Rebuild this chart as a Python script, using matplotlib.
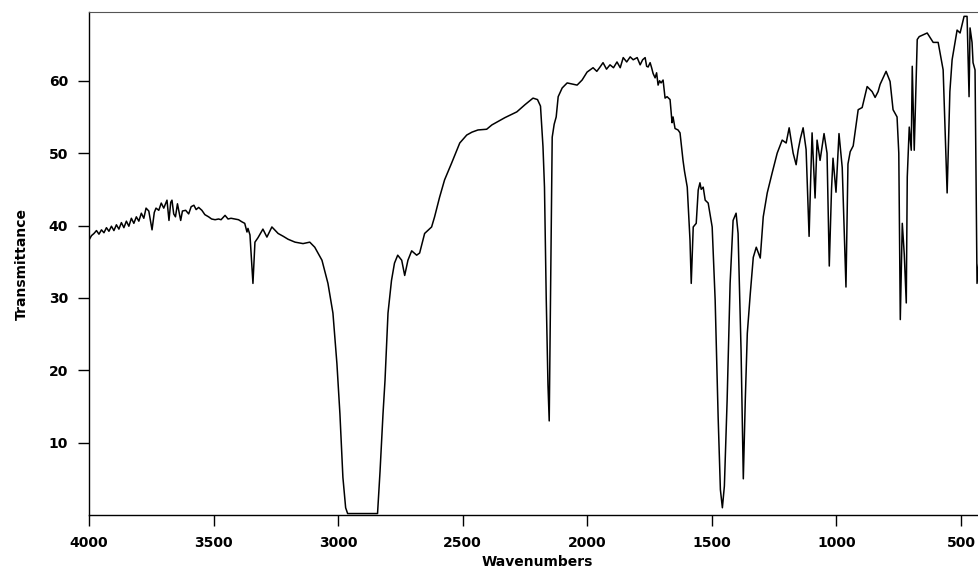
import matplotlib
matplotlib.use("Agg")
import matplotlib.pyplot as plt
import numpy as np

# IR spectrum: wavenumber (cm-1) and transmittance (%)
wn_oh = [4000, 3990, 3980, 3970, 3960, 3950, 3940, 3930, 3920, 3910, 3900, 3890,
         3880, 3870, 3860, 3850, 3840, 3830, 3820, 3810, 3800, 3790, 3780, 3771,
         3760, 3747, 3738, 3731, 3720, 3710, 3700, 3687, 3679, 3672, 3667, 3660,
         3653, 3645, 3632, 3625, 3612, 3600, 3590, 3579, 3570, 3560, 3547, 3535,
         3520, 3508, 3494, 3480, 3470, 3454, 3442, 3430, 3414, 3400, 3386, 3375]
tr_oh = [38.0, 38.6, 38.9, 39.3, 38.8, 39.4, 39.0, 39.7, 39.2, 39.9, 39.3, 40.1,
         39.5, 40.4, 39.7, 40.6, 39.9, 41.0, 40.3, 41.2, 40.6, 41.7, 41.0, 42.4,
         42.0, 39.4, 41.8, 42.4, 42.1, 43.1, 42.4, 43.5, 40.7, 43.2, 43.5, 41.6,
         41.2, 43.0, 40.7, 42.0, 42.1, 41.6, 42.6, 42.8, 42.2, 42.5, 42.1, 41.5,
         41.2, 40.9, 40.8, 40.9, 40.8, 41.4, 40.9, 41.0, 40.9, 40.8, 40.5, 40.3]

wn_ch = [3366, 3362, 3354, 3342, 3334, 3322, 3302, 3286, 3266, 3241, 3220, 3201,
         3173, 3141, 3114, 3094, 3065, 3041, 3021, 3005, 2993, 2981, 2970, 2962,
         2900, 2842, 2832, 2820, 2812, 2800, 2786, 2774, 2761, 2745, 2733, 2720,
         2705, 2685, 2673, 2653, 2625, 2613, 2593, 2573, 2545, 2512, 2484, 2463,
         2439, 2404, 2383, 2331, 2283, 2250, 2218, 2200, 2188, 2178, 2172, 2165,
         2158, 2153, 2147, 2141, 2133, 2125, 2117, 2101, 2081, 2041, 2021, 2001]
tr_ch = [39.1, 39.6, 38.7, 32.0, 37.7, 38.3, 39.5, 38.4, 39.8, 38.9, 38.5, 38.1,
         37.7, 37.5, 37.7, 37.0, 35.2, 32.0, 27.9, 20.9, 14.0, 5.2, 1.0, 0.2,
         0.2, 0.2, 6.0, 14.0, 18.6, 27.9, 32.4, 34.8, 35.9, 35.2, 33.1, 35.2,
         36.5, 35.9, 36.2, 38.9, 39.8, 41.2, 43.9, 46.3, 48.6, 51.4, 52.5, 52.9,
         53.2, 53.3, 53.9, 54.9, 55.7, 56.7, 57.6, 57.4, 56.5, 50.9, 45.3, 30.0,
         18.0, 13.0, 32.0, 52.2, 54.0, 55.0, 57.8, 59.0, 59.7, 59.4, 60.1, 61.2]

wn_fp = [1977, 1962, 1949, 1937, 1923, 1909, 1895, 1881, 1868, 1856, 1842, 1828,
         1816, 1800, 1788, 1778, 1768, 1762, 1756, 1748, 1742, 1736, 1728, 1722,
         1716, 1710, 1704, 1696, 1688, 1680, 1668, 1660, 1656, 1648, 1636, 1628,
         1616, 1610, 1599, 1588, 1583, 1575, 1563, 1555, 1548, 1543, 1535, 1527,
         1515, 1499, 1487, 1475, 1466, 1458, 1450, 1439, 1427, 1415, 1403, 1395,
         1383, 1374, 1366, 1358, 1346, 1334, 1322, 1306, 1294, 1278, 1258, 1238,
         1218, 1202, 1190, 1174, 1162, 1154, 1145, 1134, 1122, 1110, 1104, 1098,
         1086, 1078, 1066, 1050, 1038, 1029, 1020, 1014, 1002, 990, 977, 962,
         954, 945, 933, 913, 897, 877, 857, 845, 833, 825, 801, 785, 773, 757,
         750, 744, 736, 728, 720, 716, 708, 700, 696, 688, 676, 668, 636, 612,
         592, 572, 556, 545, 536, 516, 504, 488, 476, 468, 464, 456, 452, 444,
         436, 426]
tr_fp = [61.8, 61.3, 61.9, 62.5, 61.6, 62.2, 61.8, 62.6, 61.8, 63.2, 62.6, 63.3,
         62.9, 63.2, 62.2, 62.9, 63.2, 62.0, 61.9, 62.5, 61.8, 61.0, 60.4, 61.1,
         59.4, 60.0, 59.7, 60.1, 57.6, 57.8, 57.4, 54.2, 55.0, 53.4, 53.2, 52.8,
         49.0, 47.5, 45.3, 38.0, 32.0, 39.8, 40.3, 44.9, 45.9, 45.0, 45.3, 43.5,
         43.1, 39.8, 29.7, 13.5, 3.5, 1.0, 4.0, 15.8, 32.0, 40.7, 41.7, 38.9,
         22.7, 5.0, 16.0, 25.1, 30.6, 35.6, 37.0, 35.5, 41.2, 44.5, 47.3, 50.0,
         51.8, 51.4, 53.5, 50.0, 48.4, 50.4, 52.0, 53.5, 50.5, 38.5, 46.0, 52.8,
         43.8, 51.8, 49.0, 52.7, 50.0, 34.4, 45.0, 49.3, 44.6, 52.7, 48.0, 31.5,
         48.5, 50.2, 51.0, 56.0, 56.3, 59.2, 58.5, 57.7, 58.5, 59.5, 61.3, 59.9,
         56.0, 55.0, 50.0, 27.0, 40.3, 36.0, 29.3, 46.7, 53.6, 50.4, 62.0, 50.4,
         65.7, 66.1, 66.6, 65.3, 65.3, 61.5, 44.5, 58.5, 62.9, 67.0, 66.6, 68.9,
         68.9, 57.8, 67.3, 65.3, 62.5, 61.5, 32.0, 36.0]

x_ticks = [4000, 3500, 3000, 2500, 2000, 1500, 1000, 500]
y_ticks = [10, 20, 30, 40, 50, 60]

wn = np.array(wn_oh + wn_ch + wn_fp, dtype=float)
tr = np.array(tr_oh + tr_ch + tr_fp, dtype=float)

fig = plt.figure(figsize=(9.79, 5.71), dpi=100)
# right edge sits just past the canvas, like the cropped scan
ax = fig.add_axes([89 / 979, 56 / 571, (986 - 89) / 979, (515 - 12) / 571])

ax.plot(wn, tr, color="black", linewidth=1.1)

ax.set_xlim(4000, 400)
ax.set_ylim(0, 69.5)
ax.set_xticks(x_ticks)
ax.set_yticks(y_ticks)

font = dict(family="DejaVu Sans", weight="bold", size=10)
ax.set_xticklabels([str(t) for t in x_ticks], fontdict=font)
ax.set_yticklabels([str(t) for t in y_ticks], fontdict=font)
ax.tick_params(direction="out", length=8, width=1.0, color="black", pad=7)

ax.set_xlabel("Wavenumbers", fontdict=font, labelpad=4)
ax.set_ylabel("Transmittance", fontdict=font, labelpad=14)

ax.spines["right"].set_visible(False)
ax.spines["top"].set_color("#555555")
ax.spines["top"].set_linewidth(0.8)
ax.spines["left"].set_linewidth(1.0)
ax.spines["bottom"].set_linewidth(1.0)

fig.savefig("out.png", dpi=100)
